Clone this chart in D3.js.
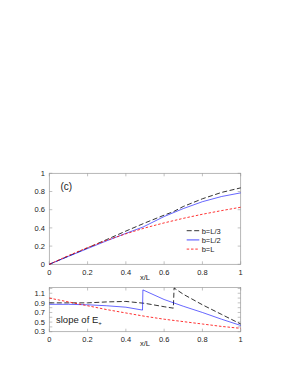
<!DOCTYPE html>
<html>
<head>
<meta charset="utf-8">
<script src="https://cdn.jsdelivr.net/npm/d3@7"></script>
<style>
  body { margin: 0; background: #fff; }
  svg text { font-family: "Liberation Sans", Arial, sans-serif; fill: #222; }
</style>
</head>
<body>
<div id="chart"></div>
<script>
// series labels
var seriesNames = ["b=L/3", "b=L/2", "b=L"];

// top panel: E vs x/L
var xTopL3 = [0, 0.1, 0.2, 0.3, 0.4, 0.5, 0.6, 0.65, 0.7, 0.8, 0.9, 1.0];
var eL3    = [0, 0.09, 0.18, 0.272, 0.365, 0.455, 0.54, 0.58, 0.635, 0.72, 0.79, 0.84];
var xTopL2 = [0, 0.1, 0.2, 0.3, 0.4, 0.49, 0.6, 0.7, 0.8, 0.9, 1.0];
var eL2    = [0, 0.087, 0.173, 0.258, 0.34, 0.41, 0.525, 0.612, 0.688, 0.745, 0.785];
var xTopL  = [0, 0.1, 0.2, 0.3, 0.4, 0.5, 0.6, 0.7, 0.8, 0.9, 1.0];
var eL     = [0, 0.096, 0.184, 0.264, 0.335, 0.4, 0.455, 0.505, 0.55, 0.59, 0.627];

// bottom panel: slope of E+
var xSlL3 = [0, 0.1, 0.2, 0.3, 0.4, 0.5, 0.6, 0.648, 0.652, 0.7, 0.8, 0.9, 1.0];
var sL3   = [0.90, 0.90, 0.90, 0.92, 0.93, 0.89, 0.82, 0.79, 1.21, 1.08, 0.86, 0.66, 0.46];
var xSlL2 = [0, 0.1, 0.2, 0.3, 0.4, 0.487, 0.489, 0.6, 0.7, 0.8, 0.9, 1.0];
var sL2   = [0.87, 0.87, 0.86, 0.84, 0.81, 0.75, 1.17, 0.97, 0.83, 0.70, 0.56, 0.43];
var xSlL  = [0, 0.1, 0.2, 0.3, 0.4, 0.5, 0.6, 0.7, 0.8, 0.9, 1.0];
var sL    = [1.0, 0.92, 0.84, 0.76, 0.69, 0.62, 0.56, 0.51, 0.46, 0.41, 0.37];

// tick values
var xTicks = [0, 0.2, 0.4, 0.6, 0.8, 1];
var yTicksTop = [0, 0.2, 0.4, 0.6, 0.8, 1];
var yTicksBot = [0.3, 0.5, 0.7, 0.9, 1.1];

var colors = ["#000000", "#0000ff", "#ff0000"];
var dashes = ["5,2.5", null, "2.5,1.8"];

var svg = d3.select("#chart").append("svg")
    .attr("width", 291).attr("height", 376);

var left = 49.3, right = 240.7;
var x = d3.scaleLinear().domain([0, 1]).range([left, right]);
var yTop = d3.scaleLinear().domain([0, 1]).range([264.3, 173.3]);
var yBot = d3.scaleLinear().domain([0.3, 1.22]).range([331.7, 287.5]);

function zip(xs, ys) { return xs.map(function (v, i) { return [v, ys[i]]; }); }

function drawPanel(y, yTicks, yMinor, series, xLabY, titleY) {
  var g = svg.append("g");
  var y0 = y.range()[0], y1 = y.range()[1];
  // ticks inward, mirrored
  var tl = 3;
  xTicks.forEach(function (t) {
    g.append("line").attr("x1", x(t)).attr("x2", x(t)).attr("y1", y0).attr("y2", y0 - tl)
      .attr("stroke", "#999").attr("stroke-width", 0.6);
    g.append("line").attr("x1", x(t)).attr("x2", x(t)).attr("y1", y1).attr("y2", y1 + tl)
      .attr("stroke", "#999").attr("stroke-width", 0.6);
    g.append("text").attr("x", x(t)).attr("y", xLabY).attr("text-anchor", "middle")
      .style("font-size", "7.5px").text(d3.format("")(t));
  });
  yMinor.forEach(function (t) {
    g.append("line").attr("x1", left).attr("x2", left + tl).attr("y1", y(t)).attr("y2", y(t))
      .attr("stroke", "#999").attr("stroke-width", 0.6);
    g.append("line").attr("x1", right).attr("x2", right - tl).attr("y1", y(t)).attr("y2", y(t))
      .attr("stroke", "#999").attr("stroke-width", 0.6);
  });
  yTicks.forEach(function (t) {
    g.append("text").attr("x", 45).attr("y", y(t) + 2.7).attr("text-anchor", "end")
      .style("font-size", "7.5px").text(d3.format("")(t));
  });
  g.append("rect").attr("x", left).attr("y", y1).attr("width", right - left).attr("height", y0 - y1)
    .attr("fill", "none").attr("stroke", "#999").attr("stroke-width", 0.7);

  var line = d3.line().x(function (d) { return x(d[0]); }).y(function (d) { return y(d[1]); });
  series.forEach(function (s, i) {
    g.append("path").datum(s).attr("d", line).attr("fill", "none")
      .attr("stroke", colors[i]).attr("stroke-width", i === 1 ? 0.6 : 0.8)
      .attr("stroke-dasharray", dashes[i]);
  });

  g.append("text").attr("x", x(0.5)).attr("y", titleY).attr("text-anchor", "middle")
    .style("font-size", "7.5px").text("x/L");
  return g;
}

var gTop = drawPanel(yTop, yTicksTop, yTicksTop,
  [zip(xTopL3, eL3), zip(xTopL2, eL2), zip(xTopL, eL)], 274.5, 279.5);

var gBot = drawPanel(yBot, yTicksBot, [0.3, 0.4, 0.5, 0.6, 0.7, 0.8, 0.9, 1.0, 1.1, 1.2],
  [zip(xSlL3, sL3), zip(xSlL2, sL2), zip(xSlL, sL)], 341.5, 346);

// panel label
gTop.append("text").attr("x", 60.5).attr("y", 189.8).style("font-size", "10px").text("(c)");

// legend
seriesNames.forEach(function (n, i) {
  var ly = 230.7 + i * 9.2;
  gTop.append("line").attr("x1", 186.7).attr("x2", 199.3).attr("y1", ly).attr("y2", ly)
    .attr("stroke", colors[i]).attr("stroke-width", i === 1 ? 1.2 : 0.8)
    .attr("stroke-opacity", i === 1 ? 0.6 : 1)
    .attr("stroke-dasharray", dashes[i]);
  gTop.append("text").attr("x", 201.7).attr("y", ly + 2.8).style("font-size", "7.5px").text(n);
});

// bottom panel annotation
var ann = gBot.append("text").attr("x", 56).attr("y", 322.5).style("font-size", "9.5px");
ann.append("tspan").text("slope of E");
ann.append("tspan").attr("dy", 2).style("font-size", "6px").text("+");
</script>
</body>
</html>
